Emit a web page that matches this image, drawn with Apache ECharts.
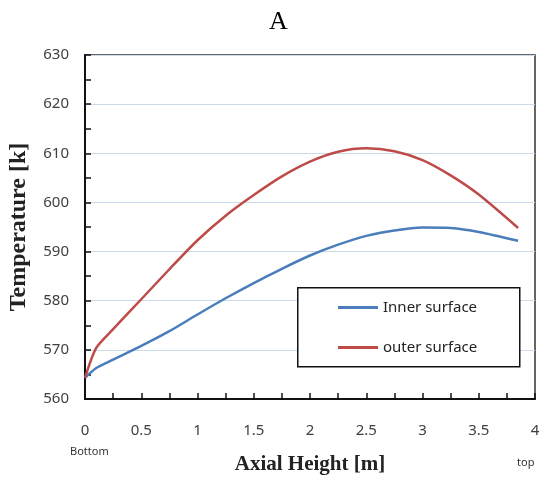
<!DOCTYPE html>
<html>
<head>
<meta charset="UTF-8">
<title>A</title>
<script src="https://cdn.jsdelivr.net/npm/echarts@6/dist/echarts.min.js"></script>
</head>
<body style="margin:0;background:#fff;">
<div id="main" style="width:540px;height:479px;"></div>
<script>
// axial positions [m]
var heights = [0, 0.1, 0.25, 0.5, 0.75, 1, 1.25, 1.5, 1.75, 2, 2.25, 2.5, 2.75, 3, 3.25, 3.5, 3.85];
// temperatures [K]
var innerSurface = [564.3, 566.3, 568.0, 570.8, 573.8, 577.2, 580.5, 583.6, 586.5, 589.2, 591.4, 593.2, 594.3, 594.9, 594.8, 594.0, 592.2];
var outerSurface = [564.3, 570.4, 574.2, 580.3, 586.4, 592.3, 597.3, 601.5, 605.3, 608.3, 610.3, 611.0, 610.4, 608.6, 605.5, 601.6, 594.8];

function pairs(xs, ys) {
	var out = [];
	for (var i = 0; i < xs.length; i++) out.push([xs[i], ys[i]]);
	return out;
}

var myChart = echarts.init(document.getElementById('main'));
var serif = '"Liberation Serif", "DejaVu Serif", serif';
var sans = '"Noto Sans", "DejaVu Sans", sans-serif';

myChart.setOption({
	animation: false,
	title: {
		text: 'A',
		left: 264,
		top: 4,
		textStyle: { fontFamily: serif, fontWeight: 'normal', fontSize: 26, color: '#000' }
	},
	grid: {
		left: 85, right: 5, top: 55, bottom: 80,
		outerBoundsMode: 'none',
		containLabel: false,
		show: true,
		borderColor: '#333',
		borderWidth: 1.5
	},
	graphic: [{
		type: 'rect',
		left: 297, top: 287,
		shape: { width: 222, height: 79 },
		style: { fill: '#fff', stroke: '#111', lineWidth: 1.5 },
		z: 10
	}, {
		type: 'text',
		left: 70, top: 446,
		style: { text: 'Bottom', fontFamily: sans, fontSize: 11, fill: '#333' }
	}, {
		type: 'text',
		left: 517, top: 457,
		style: { text: 'top', fontFamily: sans, fontSize: 11, fill: '#333' }
	}],
	legend: {
		orient: 'vertical',
		left: 333,
		top: 295,
		itemWidth: 40,
		itemHeight: 3,
		itemGap: 25,
		icon: 'rect',
		z: 20,
		textStyle: { fontFamily: sans, fontSize: 15, color: '#222' },
		data: ['Inner surface', 'outer surface']
	},
	xAxis: {
		type: 'value',
		min: 0, max: 4, interval: 0.5,
		name: 'Axial Height [m]',
		nameLocation: 'middle',
		nameGap: 55,
		nameTextStyle: { fontFamily: serif, fontWeight: 'bold', fontSize: 21, color: '#222' },
		axisLine: { lineStyle: { color: '#111', width: 2 } },
		axisTick: { inside: true, length: 6, lineStyle: { color: '#111', width: 1.5 } },
		minorTick: { show: true, splitNumber: 2, length: 6, lineStyle: { color: '#111', width: 1.5 } },
		axisLabel: { margin: 24, fontFamily: sans, fontSize: 15, color: '#404040' },
		splitLine: { show: false }
	},
	yAxis: {
		type: 'value',
		min: 560, max: 630, interval: 10,
		name: 'Temperature [k]',
		nameLocation: 'middle',
		nameGap: 54,
		nameTextStyle: { fontFamily: serif, fontWeight: 'bold', fontSize: 24, color: '#222' },
		axisLine: { show: true, lineStyle: { color: '#111', width: 2 } },
		axisTick: { show: true, inside: true, length: 6, lineStyle: { color: '#111', width: 1.5 } },
		minorTick: { show: true, splitNumber: 2, length: 6, lineStyle: { color: '#111', width: 1.5 } },
		axisLabel: { margin: 16, fontFamily: sans, fontSize: 15, color: '#404040' },
		splitLine: { show: true, lineStyle: { color: '#c9dbec', width: 1 } }
	},
	series: [{
		name: 'Inner surface',
		type: 'line',
		data: pairs(heights, innerSurface),
		smooth: 0.25,
		symbol: 'none',
		color: '#4a7ebb',
		lineStyle: { width: 2.5 }
	}, {
		name: 'outer surface',
		type: 'line',
		data: pairs(heights, outerSurface),
		smooth: 0.25,
		symbol: 'none',
		color: '#be4b48',
		lineStyle: { width: 2.5 }
	}]
});
</script>
</body>
</html>
